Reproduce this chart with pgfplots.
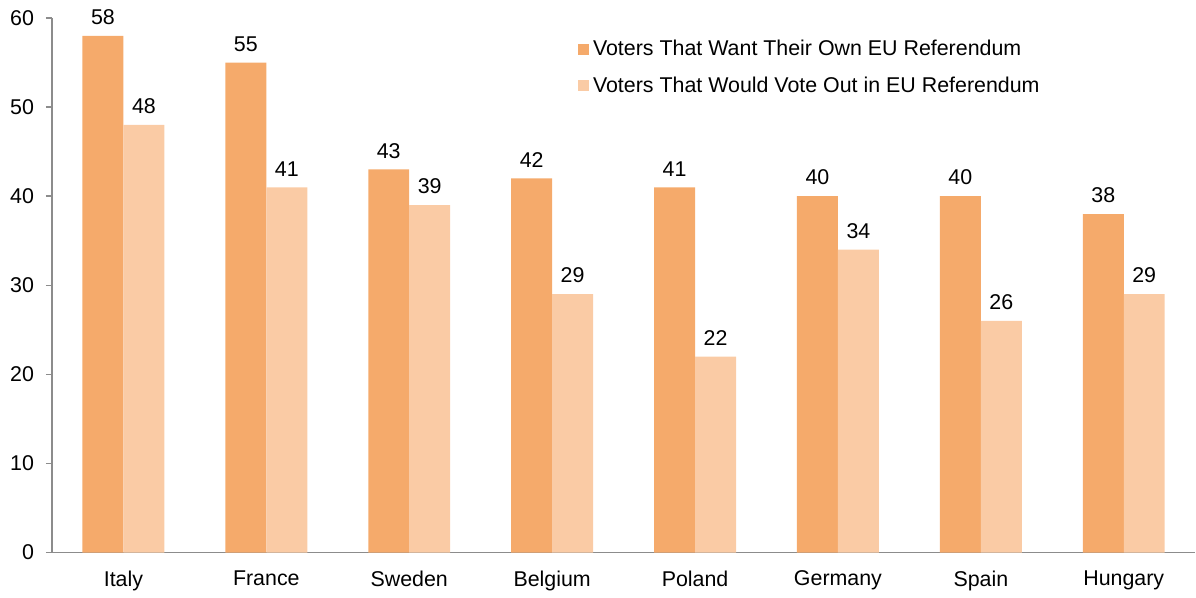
\documentclass[border=0pt]{standalone}
\usepackage{pgfplots}
\pgfplotsset{compat=1.18}
\usepackage{fontspec}
\setmainfont{Liberation Sans}
\definecolor{darkor}{RGB}{245,170,107}
\definecolor{lightor}{RGB}{250,203,165}
\definecolor{axgray}{RGB}{140,140,140}
\newcommand{\chf}{\fontsize{10.7}{12.7}\selectfont}
\begin{document}
\begin{tikzpicture}
\path (0,0) rectangle (598pt,296pt);
\begin{axis}[
  at={(26pt,19.5pt)}, anchor=south west,
  scale only axis, width=572pt, height=267.5pt,
  xmin=-0.5, xmax=7.5, ymin=0, ymax=60,
  ybar=0pt, bar width=20.5pt,
  axis x line*=bottom, axis y line*=left,
  axis line style={axgray, line width=0.8pt},
  xtick={0,...,7},
  xticklabels={Italy,France,Sweden,Belgium,Poland,Germany,Spain,Hungary},
  ytick={0,10,...,60},
  major x tick style={draw=none},
  y tick style={axgray, line width=0.8pt},
  tick align=outside, major tick length=3pt,
  /pgf/number format/assume math mode=true,
  tick label style={font=\chf, text=black},
  xticklabel style={yshift=-2.5pt},
  yticklabel style={xshift=-2.5pt},
  nodes near coords,
  every node near coord/.append style={font=\chf, text=black, yshift=2pt},
  legend style={draw=none, fill=none, at={(0.4598,0.967)}, anchor=north west,
     font=\chf, row sep=5pt, inner sep=0pt},
  legend cell align=left,
  legend image code/.code={\fill[#1] (0pt,-2.75pt) rectangle (5.5pt,2.75pt);},
]
\addplot[fill=darkor, draw=none] coordinates {(0,58) (1,55) (2,43) (3,42) (4,41) (5,40) (6,40) (7,38)};
\addplot[fill=lightor, draw=none] coordinates {(0,48) (1,41) (2,39) (3,29) (4,22) (5,34) (6,26) (7,29)};
\legend{Voters That Want Their Own EU Referendum, Voters That Would Vote Out in EU Referendum}
\end{axis}
\end{tikzpicture}
\end{document}
